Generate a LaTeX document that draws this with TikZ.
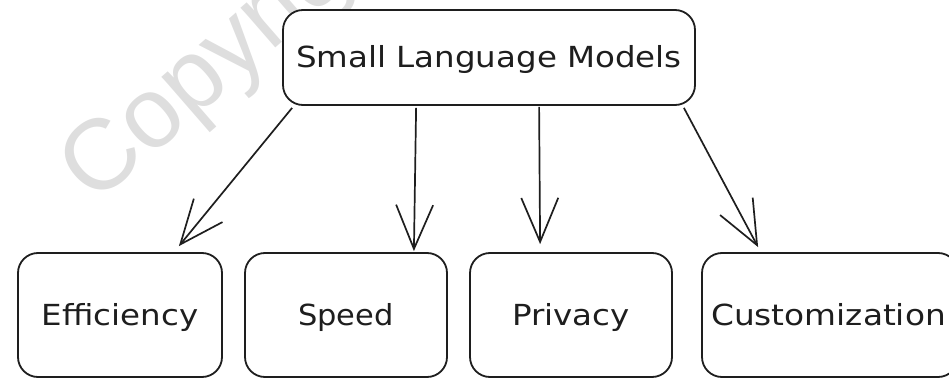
\documentclass[tikz,border=0pt]{standalone}
\usepackage{fontspec}
\setmainfont{DejaVu Sans}
\newfontfamily\wmfont{Liberation Sans}
\usetikzlibrary{arrows.meta}
\definecolor{ink}{HTML}{1E1E1E}
\definecolor{wmgray}{HTML}{DEDEDE}
\begin{document}
\begin{tikzpicture}[x=1pt,y=1pt,
  box/.style={draw=ink, line width=1.8pt, rounded corners=20pt, fill=white,
    inner sep=0pt, text height=21pt, text depth=0pt, text=ink,
    font=\fontsize{29}{34}\selectfont},
  arr/.style={draw=ink, line width=1.7pt,
    -{Straight Barb[length=44pt,width=37pt,line width=1.7pt]}},
  watermark/.style={text=wmgray, rotate=41, anchor=base west,
    font=\wmfont\fontsize{100}{100}\selectfont}
]
\useasboundingbox (0,0) rectangle (949,378);
\clip (0,0) rectangle (949,378);
\node[watermark] (wm) at (92,170) {Copyright};
\node[box, minimum width=412pt, minimum height=95pt] (top) at (489,320.5) {\scalebox{1.12}[1]{Small Language Models}};
\node[box, minimum width=204pt, minimum height=124pt] (eff) at (120,63) {\scalebox{1.12}[1]{Efficiency}};
\node[box, minimum width=202pt, minimum height=124pt] (speed) at (346,63) {\scalebox{1.05}[1]{Speed}};
\node[box, minimum width=202pt, minimum height=124pt] (priv) at (571,63) {\scalebox{1.12}[1]{Privacy}};
\node[box, minimum width=256pt, minimum height=124pt] (cust) at (830,63) {\hspace*{-3pt}\scalebox{1.13}[1]{Customization}};
\draw[arr] ([xshift=10pt,yshift=-2pt]top.south west) -- ([xshift=-44pt,yshift=6pt]eff.north east);
\draw[arr] ([xshift=134pt,yshift=-2pt]top.south west) -- ([xshift=-34pt,yshift=1pt]speed.north east);
\draw[arr] ([xshift=257pt,yshift=-1pt]top.south west) -- ([xshift=71pt,yshift=8pt]priv.north west);
\draw[arr] ([xshift=-12pt,yshift=-2pt]top.south east) -- ([xshift=57pt,yshift=5pt]cust.north west);
\end{tikzpicture}
\end{document}
